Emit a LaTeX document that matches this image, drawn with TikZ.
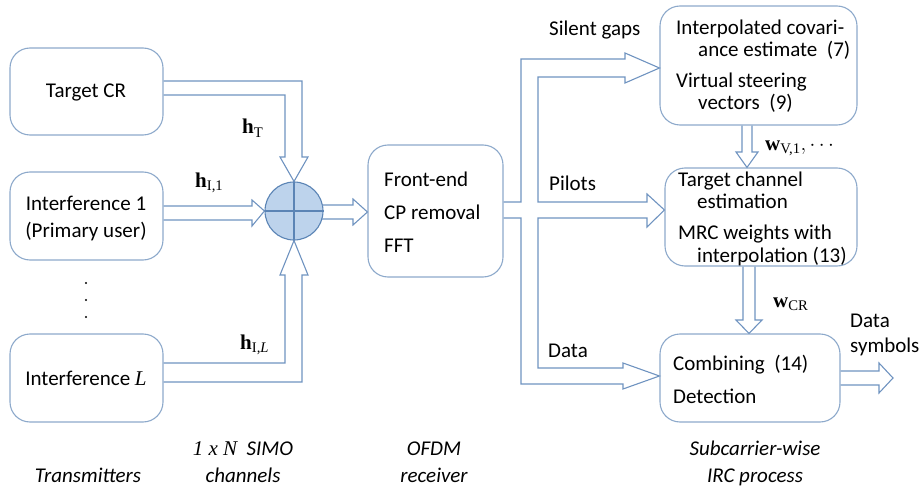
\documentclass[tikz,border=0pt]{standalone}
\usepackage{fontspec}
\setmainfont{Carlito}
\newfontfamily\tms{Liberation Serif}
\definecolor{arr}{HTML}{6F93C0}
\definecolor{bx}{HTML}{8DA9CB}
\definecolor{sumfill}{HTML}{BDD3EC}
\definecolor{sumline}{HTML}{5B84B5}
\begin{document}
\begin{tikzpicture}[x=1pt,y=-1pt,
  box/.style={draw=bx,line width=1.1pt,rounded corners=20pt,minimum width=#1},
  blk/.style={draw=arr,line width=1.1pt,line join=miter},
  txt/.style={inner sep=0pt,font=\fontsize{21}{25}\selectfont},
  lt/.style={txt,anchor=base west},
  ct/.style={txt,anchor=base},
  it/.style={txt,anchor=base,font=\fontsize{21}{25}\selectfont\itshape},
  mth/.style={inner sep=0pt,anchor=base west,font=\tms\fontsize{21}{25}\selectfont}]
\useasboundingbox (0,0) rectangle (924,492);
% boxes
\node[box=153pt,minimum height=87pt] (tcr) at (86.5,91.5) {};
\node[box=153pt,minimum height=88pt] (int1) at (86.5,216) {};
\node[box=153pt,minimum height=88pt] (intL) at (86.5,378) {};
\node[box=135pt,minimum height=132pt] (fe) at (435.5,211) {};
\node[box=197pt,minimum height=119pt] (b1) at (758.5,65.5) {};
\node[box=192pt,minimum height=98pt] (b2) at (761,217) {};
\node[box=180pt,minimum height=88pt] (b3) at (750,378) {};
% summing junction
\node[circle,draw=sumline,fill=sumfill,line width=1.1pt,minimum size=58pt,inner sep=0pt] (sum) at (294,211) {};
\draw[sumline,line width=1.1pt] (sum.north) -- (sum.south) (sum.west) -- (sum.east);
% box texts
\node[ct] (t1) at (86,98) {Target CR};
\node[ct] (t2) at (86,211) {Interference 1};
\node[ct] (t3) at (86,237) {(Primary user)};
\node[ct] (t4) at (86,385) {Interference {\tms\itshape L}};
\node[lt] (f1) at (384,186) {Front-end};
\node[lt] (f2) at (384,219) {CP removal};
\node[lt] (f3) at (384,252) {FFT};
\node[lt] (p1) at (676,35) {Interpolated covari-};
\node[lt] (p2) at (698,57) {ance estimate\ \ (7)};
\node[lt] (p3) at (676,88) {Virtual steering};
\node[lt] (p4) at (698,110) {vectors\ \ (9)};
\node[lt] (q1) at (678,186) {Target channel};
\node[lt] (q2) at (697,208) {estimation};
\node[lt] (q3) at (678,239) {MRC weights with};
\node[lt] (q4) at (697,262) {interpolation (13)};
\node[lt] (r1) at (673,370) {Combining\ \ (14)};
\node[lt] (r2) at (673,403) {Detection};
% arrow labels
\node[lt] (lsg) at (549,36) {Silent gaps};
\node[lt] (lpi) at (549,190) {Pilots};
\node[lt] (lda) at (548,357) {Data};
\node[lt] (lds1) at (850,327) {Data};
\node[lt] (lds2) at (850,352) {symbols};
\node[mth] (hT) at (242,134) {\textbf{h}\textsubscript{T}};
\node[mth] (hI1) at (195,187) {\textbf{h}\textsubscript{I,1}};
\node[mth] (hIL) at (240,349) {\textbf{h}\textsubscript{I,\textit{L}}};
\node[mth] (wV) at (765,150) {\textbf{w}\textsubscript{V,1}$,\cdots$};
\node[mth] (wCR) at (773,307) {\textbf{w}\textsubscript{CR}};
% dots
\foreach \yy in {283,300,317} \fill (86,\yy) circle (1.2pt);
% bottom captions
\node[it] (c1) at (88,482) {Transmitters};
\node[it] (c2a) at (243,455) {{\tms 1 x N}\ \ SIMO};
\node[it] (c2b) at (243,482) {channels};
\node[it] (c3a) at (434,455) {OFDM};
\node[it] (c3b) at (434,482) {receiver};
\node[it] (c4a) at (755,455) {Subcarrier-wise};
\node[it] (c4b) at (755,482) {IRC process};
% block arrows
\draw[blk] (tcr.east |- 0,81) -- (302,81) -- (302,157) -- (308,157) -- (sum.north) -- (280,157) -- (285,157) -- (285,95) -- (tcr.east |- 0,95);
\draw[blk] (int1.east |- 0,206) -- (252,206) -- (252,200) -- (sum.west) -- (252,226) -- (252,220) -- (int1.east |- 0,220);
\draw[blk] (intL.east |- 0,382) -- (302,382) -- (302,275) -- (308,275) -- (sum.south) -- (280,275) -- (285,275) -- (285,363) -- (intL.east |- 0,363);
\draw[blk] (322,205) -- (353,205) -- (353,199) -- (fe.west |- 0,212) -- (353,225) -- (353,219) -- (322,219);
\draw[blk] (fe.east |- 0,202) -- (521,202) -- (521,59) -- (625,59) -- (625,53) -- (b1.west |- 0,68) -- (625,83) -- (625,77) -- (538,77) -- (538,202) -- (647,202) -- (647,194) -- (b2.west |- 0,210) -- (647,227) -- (647,218) -- (538,218) -- (538,368) -- (623,368) -- (623,363) -- (b3.west |- 0,376) -- (623,389) -- (623,384) -- (521,384) -- (521,218) -- (fe.east |- 0,218);
\draw[blk] (742,0 |- b1.south) -- (742,152) -- (736,152) -- (747,0 |- b2.north) -- (758,152) -- (752,152) -- (752,0 |- b1.south);
\draw[blk] (743,0 |- b2.south) -- (743,320) -- (736,320) -- (749,0 |- b3.north) -- (762,320) -- (755,320) -- (755,0 |- b2.south);
\draw[blk] (b3.east |- 0,371) -- (879,371) -- (879,363) -- (893,378) -- (879,393) -- (879,385) -- (b3.east |- 0,385);
\end{tikzpicture}
\end{document}
